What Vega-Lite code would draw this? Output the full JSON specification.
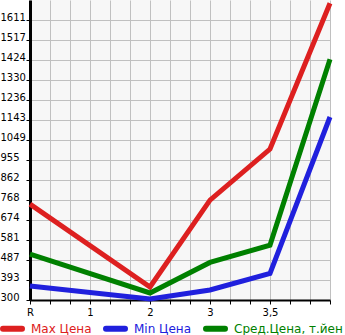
{
  "$schema": "https://vega.github.io/schema/vega-lite/v6.json",
  "width": 300,
  "height": 300,
  "autosize": "none",
  "padding": {"left": 30, "top": 0, "right": 15, "bottom": 35},
  "background": "white",
  "config": {
    "view": {"fill": "#f7f7f7", "stroke": null},
    "font": "DejaVu Sans"
  },
  "data": {
    "values": [
      {"x": 0, "v": 749, "series": "Max Цена"},
      {"x": 2, "v": 361, "series": "Max Цена"},
      {"x": 3, "v": 768, "series": "Max Цена"},
      {"x": 4, "v": 1007, "series": "Max Цена"},
      {"x": 5, "v": 1690, "series": "Max Цена"},
      {"x": 0, "v": 366, "series": "Min Цена"},
      {"x": 2, "v": 305, "series": "Min Цена"},
      {"x": 3, "v": 347, "series": "Min Цена"},
      {"x": 4, "v": 425, "series": "Min Цена"},
      {"x": 5, "v": 1157, "series": "Min Цена"},
      {"x": 0, "v": 515, "series": "Сред.Цена, т.йен"},
      {"x": 2, "v": 333, "series": "Сред.Цена, т.йен"},
      {"x": 3, "v": 476, "series": "Сред.Цена, т.йен"},
      {"x": 4, "v": 557, "series": "Сред.Цена, т.йен"},
      {"x": 5, "v": 1428, "series": "Сред.Цена, т.йен"}
    ]
  },
  "mark": {"type": "line", "strokeWidth": 5},
  "encoding": {
    "x": {
      "field": "x",
      "type": "quantitative",
      "scale": {"domain": [0, 5], "nice": false, "zero": false},
      "axis": {
        "title": null,
        "values": [0, 0.333333, 0.666667, 1, 1.333333, 1.666667, 2, 2.333333, 2.666667, 3, 3.333333, 3.666667, 4, 4.333333, 4.666667, 5],
        "labelExpr": "datum.value == 0 ? 'R' : datum.value == 4 ? '3,5' : datum.value == 5 ? '' : (abs(datum.value - round(datum.value)) < 0.01 ? format(datum.value, 'd') : '')",
        "grid": true,
        "gridColor": "#c0c0c0",
        "gridWidth": 1,
        "domainColor": "#000000",
        "domainWidth": 2,
        "tickColor": "#000000",
        "tickSize": 4,
        "labelPadding": 3,
        "labelFontSize": 10,
        "labelColor": "#000000",
        "labelFlush": false,
        "labelOverlap": false
      }
    },
    "y": {
      "field": "v",
      "type": "quantitative",
      "scale": {"domain": [300, 1705], "nice": false, "zero": false},
      "axis": {
        "title": null,
        "values": [300, 393, 487, 581, 674, 768, 862, 955, 1049, 1143, 1236, 1330, 1424, 1517, 1611],
        "format": "d",
        "grid": true,
        "gridColor": "#c0c0c0",
        "gridWidth": 1,
        "domainColor": "#000000",
        "domainWidth": 3,
        "tickColor": "#000000",
        "tickSize": 4,
        "labelAlign": "left",
        "labelBaseline": "alphabetic",
        "labelPadding": 26,
        "labelFontSize": 10,
        "labelColor": "#000000",
        "labelFlush": false,
        "labelOverlap": false
      }
    },
    "color": {
      "field": "series",
      "type": "nominal",
      "scale": {
        "domain": ["Max Цена", "Min Цена", "Сред.Цена, т.йен"],
        "range": ["#dd2020", "#2020dd", "#008000"]
      },
      "legend": {
        "title": null,
        "orient": "none",
        "direction": "horizontal",
        "legendX": -30,
        "legendY": 316,
        "symbolType": "stroke",
        "symbolStrokeWidth": 6,
        "symbolSize": 361,
        "labelFont": "DejaVu Sans",
        "labelFontSize": 12,
        "labelOffset": 6,
        "columnPadding": 2,
        "padding": 0,
        "encode": {
          "labels": {"update": {"fill": {"scale": "color", "field": "value"}}},
          "symbols": {"update": {"strokeCap": {"value": "round"}}}
        }
      }
    }
  }
}
